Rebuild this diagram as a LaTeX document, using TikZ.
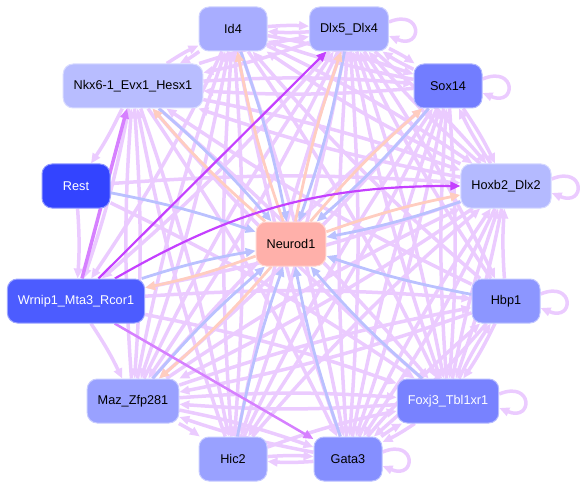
\documentclass[tikz,border=0pt]{standalone}
\usepackage{fontspec}
\setmainfont{Liberation Sans}
\usetikzlibrary{arrows.meta}
\definecolor{tfedge}{RGB}{235,203,255}
\definecolor{tfblue}{RGB}{186,193,255}
\definecolor{tfsalmon}{RGB}{255,205,192}
\definecolor{tfdark}{RGB}{196,64,255}
\definecolor{tfmid}{RGB}{214,128,255}
\definecolor{cNeurod}{RGB}{255,176,170}
\definecolor{cId}{RGB}{168,173,255}
\definecolor{cDlx}{RGB}{163,169,255}
\definecolor{cSox}{RGB}{114,125,255}
\definecolor{cNkx}{RGB}{184,189,255}
\definecolor{cRest}{RGB}{51,68,255}
\definecolor{cHoxb}{RGB}{180,186,255}
\definecolor{cWrnip}{RGB}{76,92,255}
\definecolor{cHbp}{RGB}{140,150,255}
\definecolor{cMaz}{RGB}{153,161,255}
\definecolor{cFoxj}{RGB}{120,130,255}
\definecolor{cHic}{RGB}{153,161,255}
\definecolor{cGata}{RGB}{133,143,255}
\pgfdeclarelayer{background}
\pgfsetlayers{background,main}
\tikzset{
  gene/.style={rounded corners=10pt,minimum height=44pt,minimum width=68pt,inner xsep=10.5pt,
    fill=#1,draw=#1!55!white,line width=1pt,font=\fontsize{12.7}{15}\selectfont},
  reg/.style={draw=#1,line width=3.5pt,-{Triangle[length=10pt,width=8.5pt]},bend left=4},
  selfreg/.style={draw=tfedge,line width=3.5pt,-{Triangle[length=10pt,width=8.5pt]}},
}

\begin{document}
\begin{tikzpicture}[x=1pt,y=-1pt]
  \useasboundingbox (0,0) rectangle (583,489);
  % genes
  \node[gene=cId] (id4) at (233,29) {Id4};
  \node[gene=cDlx] (dlx5) at (349,29) {Dlx5\_Dlx4};
  \node[gene=cSox] (sox14) at (448,86) {Sox14};
  \node[gene=cNkx] (nkx6) at (133,86) {Nkx6-1\_Evx1\_Hesx1};
  \node[gene=cRest,text=white] (rest) at (76,186) {Rest};
  \node[gene=cHoxb] (hoxb2) at (506,186) {Hoxb2\_Dlx2};
  \node[gene=cNeurod] (neurod1) at (291,244) {Neurod1};
  \node[gene=cWrnip,text=white] (wrnip1) at (76,301) {Wrnip1\_Mta3\_Rcor1};
  \node[gene=cHbp] (hbp1) at (506,301) {Hbp1};
  \node[gene=cMaz] (maz) at (133,401) {Maz\_Zfp281};
  \node[gene=cFoxj,text=white] (foxj3) at (448,401) {Foxj3\_Tbl1xr1};
  \node[gene=cHic] (hic2) at (233,459) {Hic2};
  \node[gene=cGata] (gata3) at (348,459) {Gata3};
  \begin{pgfonlayer}{background}
  % regulation among the outer genes
  \foreach \s/\t in {id4/dlx5,id4/sox14,id4/hoxb2,id4/foxj3,id4/gata3,id4/hic2,id4/maz,id4/wrnip1,id4/nkx6,
    dlx5/id4,dlx5/sox14,dlx5/hoxb2,dlx5/hbp1,dlx5/foxj3,dlx5/gata3,dlx5/hic2,dlx5/maz,dlx5/wrnip1,dlx5/nkx6,
    sox14/dlx5,sox14/hoxb2,sox14/foxj3,sox14/gata3,sox14/hic2,sox14/maz,sox14/nkx6,sox14/id4,
    hoxb2/sox14,hoxb2/dlx5,hoxb2/id4,hoxb2/nkx6,hoxb2/maz,hoxb2/gata3,hoxb2/foxj3,hoxb2/wrnip1,
    hbp1/hoxb2,hbp1/foxj3,hbp1/gata3,hbp1/maz,hbp1/dlx5,hbp1/id4,hbp1/nkx6,
    foxj3/hbp1,foxj3/gata3,foxj3/hoxb2,foxj3/sox14,foxj3/dlx5,foxj3/maz,foxj3/nkx6,
    gata3/hic2,gata3/foxj3,gata3/maz,gata3/hoxb2,gata3/sox14,gata3/dlx5,gata3/id4,gata3/hbp1,
    hic2/gata3,hic2/foxj3,hic2/hoxb2,hic2/sox14,hic2/dlx5,hic2/id4,hic2/nkx6,
    maz/foxj3,maz/gata3,maz/hic2,maz/hoxb2,maz/hbp1,maz/sox14,maz/dlx5,maz/id4,maz/nkx6,
    wrnip1/hbp1,wrnip1/foxj3,wrnip1/maz,
    rest/wrnip1,rest/hoxb2,rest/foxj3,
    nkx6/sox14,nkx6/dlx5,nkx6/id4,nkx6/hoxb2,nkx6/maz,nkx6/wrnip1,nkx6/foxj3,nkx6/gata3,nkx6/hic2,nkx6/rest}
    \draw[reg=tfedge] (\s) to (\t);
  \foreach \n in {dlx5,sox14,hoxb2,hbp1,foxj3,gata3}
    \draw[selfreg] ([yshift=7pt]\n.east) .. controls +(34pt,14pt) and +(34pt,-14pt) .. ([yshift=-7pt]\n.east);
  % Neurod1 in and out
  \foreach \s in {nkx6,id4,dlx5,sox14,hoxb2,hbp1,foxj3,gata3,hic2,maz,wrnip1,rest}
    \draw[reg=tfblue,line width=2.8pt] (\s) to (neurod1);
  \foreach \t in {nkx6,id4,dlx5,sox14,hoxb2,wrnip1,maz}
    \draw[reg=tfsalmon,line width=2.8pt] (neurod1) to (\t);
  % strong links
  \draw[reg=tfmid,bend left=0] (wrnip1) to (nkx6);
  \draw[reg=tfmid,line width=2.5pt,bend left=0] (wrnip1) to (gata3);
  \draw[reg=tfdark,line width=2.2pt,bend left=0] (wrnip1) to (dlx5);
  \draw[reg=tfdark,line width=2.2pt,bend left=15] (wrnip1) to (hoxb2);
  \end{pgfonlayer}
\end{tikzpicture}
\end{document}
